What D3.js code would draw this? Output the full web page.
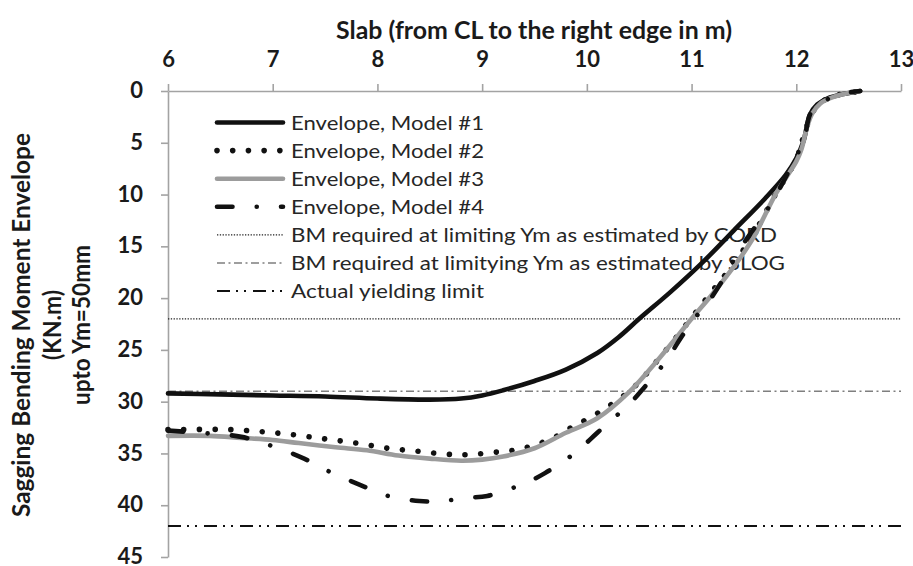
<!DOCTYPE html>
<html>
<head>
<meta charset="utf-8">
<script src="https://cdn.jsdelivr.net/npm/d3@7"></script>
<style>
  html, body { margin: 0; padding: 0; background: #fff; }
  svg { display: block; }
  text { font-family: Lato, "Open Sans", sans-serif; }
</style>
</head>
<body>
<svg id="chart" width="913" height="566"></svg>
<script>
// Axis ticks
const xTickValues = [6, 7, 8, 9, 10, 11, 12, 13];
const yTickValues = [0, 5, 10, 15, 20, 25, 30, 35, 40, 45];

// Envelope, Model #1
const m1X = [6.0, 6.5, 7.0, 7.5, 8.0, 8.5, 8.8, 9.0, 9.2, 9.5, 9.8, 10.1, 10.3, 10.5, 10.8, 11.1, 11.4, 11.7, 11.9, 12.0, 12.07, 12.13, 12.2, 12.3, 12.45, 12.61];
const m1Y = [29.2, 29.3, 29.4, 29.5, 29.7, 29.8, 29.7, 29.4, 28.9, 28.0, 26.9, 25.3, 23.8, 22.0, 19.4, 16.6, 13.5, 10.4, 8.1, 6.5, 4.8, 2.3, 1.3, 0.7, 0.3, 0.0];

// Envelope, Model #2
const m2X = [6.0, 6.6, 6.9, 7.2, 7.5, 7.8, 8.1, 8.4, 8.7, 8.9, 9.1, 9.3, 9.5, 9.7, 9.85, 10.0, 10.2, 10.45, 10.7, 11.0, 11.2, 11.4, 11.6, 11.8, 12.0, 12.1, 12.2, 12.35, 12.5, 12.61];
const m2Y = [32.7, 32.7, 32.9, 33.2, 33.6, 34.0, 34.5, 34.8, 35.1, 35.1, 34.9, 34.7, 34.2, 33.4, 32.5, 31.7, 30.5, 28.6, 25.7, 21.9, 19.3, 16.7, 13.7, 10.0, 6.6, 3.4, 1.4, 0.5, 0.2, 0.0];

// Envelope, Model #3
const m3X = [6.0, 6.4, 6.7, 7.0, 7.25, 7.6, 7.9, 8.2, 8.5, 8.8, 9.0, 9.2, 9.5, 9.8, 10.1, 10.4, 10.7, 11.0, 11.2, 11.4, 11.5, 11.6, 11.7, 11.8, 11.9, 12.0, 12.05, 12.1, 12.15, 12.23, 12.35, 12.5, 12.61];
const m3Y = [33.3, 33.3, 33.5, 33.7, 34.0, 34.4, 34.7, 35.2, 35.5, 35.7, 35.6, 35.3, 34.5, 33.0, 31.6, 29.1, 25.7, 22.0, 19.6, 17.0, 15.6, 14.0, 12.0, 10.0, 8.4, 6.8, 5.6, 3.6, 2.2, 1.2, 0.6, 0.2, 0.0];

// Envelope, Model #4
const m4X = [6.0, 6.3, 6.7, 7.0, 7.3, 7.55, 7.85, 8.1, 8.4, 8.6, 8.85, 9.05, 9.3, 9.45, 9.6, 9.8, 9.95, 10.1, 10.3, 10.4, 10.55, 10.7, 10.8, 10.9, 11.05, 11.15, 11.27, 11.46, 11.72, 11.82, 11.91, 12.02, 12.08, 12.13, 12.2, 12.32, 12.47, 12.61];
const m4Y = [32.8, 33.0, 33.4, 34.3, 35.5, 36.8, 38.1, 39.1, 39.6, 39.6, 39.3, 39.1, 38.3, 37.7, 36.9, 35.6, 34.4, 33.0, 31.2, 30.3, 28.6, 26.8, 25.4, 23.8, 21.7, 20.5, 18.7, 15.3, 11.5, 9.8, 8.1, 5.9, 4.4, 2.3, 1.3, 0.7, 0.2, 0.0];

// Horizontal reference levels (span of the slab axis)
const refX = [6, 13];
const cordLevel = [22, 22];
const slogLevel = [29, 29];
const yieldLevel = [42, 42];

const legendLabels = [
  "Envelope, Model #1",
  "Envelope, Model #2",
  "Envelope, Model #3",
  "Envelope, Model #4",
  "BM required at limiting Ym as estimated by CORD",
  "BM required at limitying Ym as estimated by SLOG",
  "Actual yielding limit"
];
const legendWidths = [193, 193, 193, 193, 486, 494, 193];

const svg = d3.select("#chart");

const x = d3.scaleLinear().domain([6, 13]).range([168, 901]);
const y = d3.scaleLinear().domain([0, 45]).range([91, 557]);

const axisColor = "#a3a3a3";

// Styles per series
const series = [
  { xs: m1X, ys: m1Y, color: "#111", width: 4.6, dash: null, cap: "round" },
  { xs: m2X, ys: m2Y, color: "#111", width: 5.6, dash: "0.01 15.7", cap: "round" },
  { xs: m3X, ys: m3Y, color: "#9c9c9c", width: 4.6, dash: null, cap: "round" },
  { xs: m4X, ys: m4Y, color: "#111", width: 4.6, dash: "15.5 24.25 0.01 24.25", cap: "round" },
  { xs: refX, ys: cordLevel, color: "#222", width: 1.3, dash: "1.3 1.5", cap: "butt" },
  { xs: refX, ys: slogLevel, color: "#7f7f7f", width: 1.5, dash: "8 3.5 2 3.5", cap: "butt" },
  { xs: refX, ys: yieldLevel, color: "#111", width: 2, dash: "13 6 2 6 2 7", cap: "butt" }
];

// Axes
const xAxis = d3.axisTop(x).tickValues(xTickValues).tickSize(7).tickSizeOuter(0).tickPadding(17)
  .tickFormat(d3.format("d"));
const gx = svg.append("g").attr("transform", `translate(0,${y(0)})`).call(xAxis);

const yAxis = d3.axisLeft(y).tickValues(yTickValues).tickSize(7).tickSizeOuter(0).tickPadding(18)
  .tickFormat(d3.format("d"));
const gy = svg.append("g").attr("transform", `translate(${x(6)},0)`).call(yAxis);

[gx, gy].forEach(g => {
  g.selectAll("path, line").attr("stroke", axisColor).attr("stroke-width", 1.6);
  g.selectAll("text")
    .attr("fill", "#1a1a1a")
    .style("font-family", "Lato, sans-serif")
    .style("font-weight", "bold")
    .style("font-size", "22px");
});
gy.selectAll(".tick text").attr("dy", "0.3em");

// Axis titles
svg.append("text")
  .attr("x", 534).attr("y", 39)
  .attr("text-anchor", "middle")
  .attr("textLength", 396).attr("lengthAdjust", "spacingAndGlyphs")
  .style("font-weight", "bold").style("font-size", "24px").attr("fill", "#1a1a1a")
  .text("Slab (from CL to the right edge in m)");

const yTitle = [
  { t: "Sagging Bending Moment Envelope", cx: 22, len: 384 },
  { t: "(KN.m)", cx: 53, len: 70 },
  { t: "upto Ym=50mm", cx: 82, len: 160 }
];
yTitle.forEach(d => {
  svg.append("text")
    .attr("transform", `translate(${d.cx + 8},325) rotate(-90)`)
    .attr("text-anchor", "middle")
    .attr("textLength", d.len).attr("lengthAdjust", "spacingAndGlyphs")
    .style("font-weight", "bold").style("font-size", "24px").attr("fill", "#1a1a1a")
    .text(d.t);
});

// Legend (drawn beneath the curves)
const legend = svg.append("g");
legendLabels.forEach((lab, i) => {
  const cy = 122.5 + i * 28.1;
  const s = series[i];
  legend.append("line")
    .attr("x1", 217).attr("x2", 283).attr("y1", cy).attr("y2", cy)
    .attr("stroke", s.color).attr("stroke-width", s.width)
    .attr("stroke-linecap", s.cap)
    .attr("stroke-dasharray", s.dash);
  legend.append("text")
    .attr("x", 291).attr("y", cy + 7)
    .attr("textLength", legendWidths[i]).attr("lengthAdjust", "spacingAndGlyphs")
    .style("font-size", "20px").attr("fill", "#262626")
    .text(lab);
});

// Series lines
const smooth = d3.line().x(d => x(d[0])).y(d => y(d[1])).curve(d3.curveCatmullRom.alpha(0.5));
const straight = d3.line().x(d => x(d[0])).y(d => y(d[1]));

const plot = svg.append("g");
// reference levels first, then the envelopes
[4, 5, 6, 0, 1, 2, 3].forEach(i => {
  const s = series[i];
  const pts = s.xs.map((v, k) => [v, s.ys[k]]);
  plot.append("path")
    .attr("d", (i >= 4 ? straight : smooth)(pts))
    .attr("fill", "none")
    .attr("stroke", s.color)
    .attr("stroke-width", s.width)
    .attr("stroke-linecap", s.cap)
    .attr("stroke-linejoin", "round")
    .attr("stroke-dasharray", s.dash);
});
</script>
</body>
</html>
